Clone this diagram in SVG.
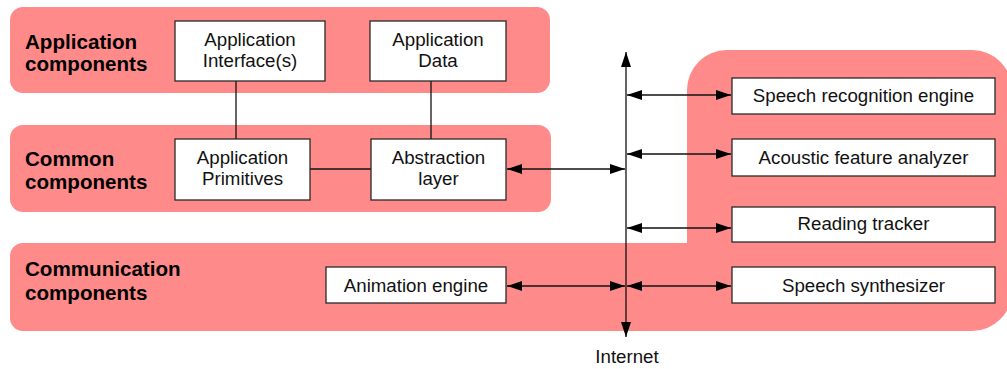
<svg xmlns="http://www.w3.org/2000/svg" width="1007" height="369" viewBox="0 0 1007 369">
  <defs>
    <style>
      .band { fill: #ff8a8a; stroke: none; }
      .box { fill: #ffffff; stroke: #2a2a2a; stroke-width: 1.3; }
      .lbl { font-family: "Liberation Sans", Arial, sans-serif; font-size: 20.6px; font-weight: bold; fill: #000; }
      .txt { font-family: "Liberation Sans", Arial, sans-serif; font-size: 18.7px; fill: #111; text-anchor: middle; }
      .line { stroke: #111; stroke-width: 1.3; fill: none; }
      .arr { stroke: #111; stroke-width: 1.3; fill: none; marker-start: url(#head); marker-end: url(#head); }
    </style>
    <marker id="head" markerUnits="userSpaceOnUse" markerWidth="15" markerHeight="10" refX="15" refY="5" orient="auto-start-reverse">
      <path d="M0,0 L15,5 L0,10 z" fill="#000"/>
    </marker>
  </defs>

  <!-- layer bands -->
  <g id="bands">
    <rect id="band-application" class="band" x="10" y="7" width="540" height="86" rx="13"/>
    <rect id="band-common" class="band" x="10" y="125" width="541" height="87" rx="13"/>
    <path id="band-communication" class="band"
          d="M23,243 L687,243 L687,90 A40,40 0 0 1 727,50 L972,50 A40,40 0 0 1 1012,90 L1012,291 A40,40 0 0 1 972,331 L23,331 A13,13 0 0 1 10,318 L10,256 A13,13 0 0 1 23,243 Z"/>
    <text class="lbl" x="25" y="49">Application</text>
    <text class="lbl" x="25" y="71">components</text>
    <text class="lbl" x="25" y="166">Common</text>
    <text class="lbl" x="25" y="189">components</text>
    <text class="lbl" x="25" y="276">Communication</text>
    <text class="lbl" x="25" y="300">components</text>
  </g>

  <!-- connectors -->
  <g id="connectors">
    <line class="line" x1="236" y1="81" x2="236" y2="139"/>
    <line class="line" x1="431" y1="81" x2="431" y2="139"/>
    <line class="line" x1="310" y1="169" x2="371" y2="169"/>
    <line class="arr" x1="507" y1="169" x2="625" y2="169"/>
    <line class="arr" x1="507" y1="286" x2="625" y2="286"/>
    <line class="arr" x1="626" y1="52" x2="626" y2="337"/>
    <line class="arr" x1="627" y1="95" x2="731" y2="95"/>
    <line class="arr" x1="627" y1="154" x2="731" y2="154"/>
    <line class="arr" x1="627" y1="228" x2="731" y2="228"/>
    <line class="arr" x1="627" y1="286" x2="731" y2="286"/>
  </g>

  <g id="app-interface">
    <rect class="box" x="175" y="21" width="150" height="60"/>
    <text class="txt" x="250" y="46">Application</text>
    <text class="txt" x="250" y="67">Interface(s)</text>
  </g>
  <g id="app-data">
    <rect class="box" x="370" y="21" width="136" height="60"/>
    <text class="txt" x="438" y="46">Application</text>
    <text class="txt" x="438" y="67">Data</text>
  </g>
  <g id="app-primitives">
    <rect class="box" x="175" y="139" width="135" height="61"/>
    <text class="txt" x="242.5" y="164">Application</text>
    <text class="txt" x="242.5" y="185">Primitives</text>
  </g>
  <g id="abstraction-layer">
    <rect class="box" x="371" y="139" width="135" height="61"/>
    <text class="txt" x="438.5" y="164">Abstraction</text>
    <text class="txt" x="438.5" y="185">layer</text>
  </g>
  <g id="animation-engine">
    <rect class="box" x="326" y="267" width="180" height="36"/>
    <text class="txt" x="416" y="292">Animation engine</text>
  </g>
  <g id="speech-recognition">
    <rect class="box" x="732" y="78" width="263" height="36"/>
    <text class="txt" x="863.5" y="102">Speech recognition engine</text>
  </g>
  <g id="acoustic-analyzer">
    <rect class="box" x="732" y="139" width="263" height="37"/>
    <text class="txt" x="863.5" y="164">Acoustic feature analyzer</text>
  </g>
  <g id="reading-tracker">
    <rect class="box" x="732" y="207" width="263" height="35"/>
    <text class="txt" x="863.5" y="230">Reading tracker</text>
  </g>
  <g id="speech-synthesizer">
    <rect class="box" x="732" y="267" width="263" height="36"/>
    <text class="txt" x="863.5" y="292">Speech synthesizer</text>
  </g>
  <g id="internet">
    <text class="txt" x="627" y="363">Internet</text>
  </g>
</svg>
